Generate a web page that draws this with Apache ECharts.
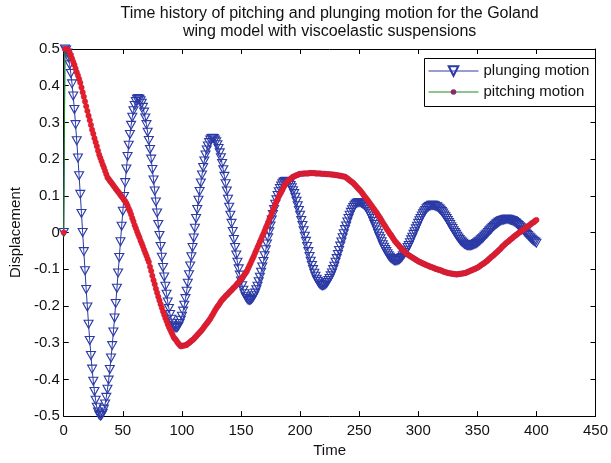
<!DOCTYPE html>
<html>
<head>
<meta charset="utf-8">
<script src="https://cdn.jsdelivr.net/npm/echarts@6/dist/echarts.min.js"></script>
<style>
html,body{margin:0;padding:0;background:#fff;}
#chart{width:611px;height:463px;}
</style>
</head>
<body>
<div id="chart"></div>
<script>
const titleLines = ['Time history of pitching and plunging motion for the Goland', 'wing model with viscoelastic suspensions'];
const xAxisName = 'Time';
const yAxisName = 'Displacement';
const seriesNames = ['plunging motion', 'pitching motion'];

const time = [
0,1,2,3,4,5,6,7,8,9,10,11,12,13,14,15,16,17,18,19,
20,21,22,23,24,25,26,27,28,29,30,31,32,33,34,35,36,37,38,39,
40,41,42,43,44,45,46,47,48,49,50,51,52,53,54,55,56,57,58,59,
60,61,62,63,64,65,66,67,68,69,70,71,72,73,74,75,76,77,78,79,
80,81,82,83,84,85,86,87,88,89,90,91,92,93,94,95,96,97,98,99,
100,101,102,103,104,105,106,107,108,109,110,111,112,113,114,115,116,117,118,119,
120,121,122,123,124,125,126,127,128,129,130,131,132,133,134,135,136,137,138,139,
140,141,142,143,144,145,146,147,148,149,150,151,152,153,154,155,156,157,158,159,
160,161,162,163,164,165,166,167,168,169,170,171,172,173,174,175,176,177,178,179,
180,181,182,183,184,185,186,187,188,189,190,191,192,193,194,195,196,197,198,199,
200,201,202,203,204,205,206,207,208,209,210,211,212,213,214,215,216,217,218,219,
220,221,222,223,224,225,226,227,228,229,230,231,232,233,234,235,236,237,238,239,
240,241,242,243,244,245,246,247,248,249,250,251,252,253,254,255,256,257,258,259,
260,261,262,263,264,265,266,267,268,269,270,271,272,273,274,275,276,277,278,279,
280,281,282,283,284,285,286,287,288,289,290,291,292,293,294,295,296,297,298,299,
300,301,302,303,304,305,306,307,308,309,310,311,312,313,314,315,316,317,318,319,
320,321,322,323,324,325,326,327,328,329,330,331,332,333,334,335,336,337,338,339,
340,341,342,343,344,345,346,347,348,349,350,351,352,353,354,355,356,357,358,359,
360,361,362,363,364,365,366,367,368,369,370,371,372,373,374,375,376,377,378,379,
380,381,382,383,384,385,386,387,388,389,390,391,392,393,394,395,396,397,398,399,
400];

const plunging = [
0,0.5,0.497,0.489,0.476,0.457,0.433,0.405,0.372,0.335,
0.294,0.250,0.203,0.155,0.104,0.052,0.000,-0.052,-0.104,-0.155,
-0.203,-0.250,-0.294,-0.335,-0.372,-0.405,-0.433,-0.457,-0.476,-0.489,
-0.497,-0.500,-0.498,-0.492,-0.481,-0.467,-0.449,-0.427,-0.402,-0.373,
-0.342,-0.308,-0.271,-0.233,-0.193,-0.152,-0.110,-0.068,-0.025,0.017,
0.058,0.098,0.136,0.173,0.207,0.238,0.267,0.292,0.314,0.332,
0.346,0.357,0.363,0.365,0.363,0.359,0.352,0.341,0.328,0.312,
0.294,0.273,0.251,0.226,0.200,0.172,0.143,0.113,0.083,0.053,
0.022,-0.008,-0.038,-0.067,-0.095,-0.121,-0.146,-0.168,-0.189,-0.207,
-0.223,-0.236,-0.247,-0.254,-0.258,-0.260,-0.259,-0.255,-0.248,-0.239,
-0.228,-0.214,-0.198,-0.180,-0.160,-0.138,-0.115,-0.091,-0.066,-0.041,
-0.015,0.012,0.038,0.063,0.088,0.112,0.135,0.157,0.177,0.195,
0.211,0.225,0.236,0.245,0.252,0.256,0.257,0.256,0.252,0.247,
0.239,0.229,0.217,0.204,0.188,0.171,0.153,0.133,0.113,0.091,
0.069,0.047,0.025,0.003,-0.019,-0.041,-0.061,-0.081,-0.099,-0.116,
-0.132,-0.145,-0.157,-0.167,-0.175,-0.180,-0.184,-0.185,-0.184,-0.182,
-0.178,-0.172,-0.165,-0.156,-0.146,-0.134,-0.122,-0.108,-0.094,-0.079,
-0.063,-0.047,-0.031,-0.014,0.002,0.018,0.034,0.049,0.063,0.077,
0.089,0.101,0.111,0.120,0.127,0.133,0.137,0.139,0.140,0.139,
0.137,0.133,0.128,0.122,0.114,0.106,0.096,0.085,0.073,0.060,
0.047,0.033,0.019,0.005,-0.010,-0.024,-0.038,-0.052,-0.065,-0.078,
-0.090,-0.101,-0.111,-0.119,-0.127,-0.133,-0.138,-0.142,-0.144,-0.145,
-0.144,-0.143,-0.140,-0.136,-0.131,-0.125,-0.118,-0.110,-0.101,-0.092,
-0.081,-0.071,-0.060,-0.049,-0.037,-0.026,-0.014,-0.003,0.008,0.018,
0.029,0.038,0.047,0.055,0.062,0.068,0.073,0.077,0.080,0.081,
0.082,0.082,0.080,0.078,0.076,0.072,0.068,0.063,0.057,0.051,
0.045,0.038,0.030,0.022,0.015,0.007,-0.002,-0.010,-0.017,-0.025,
-0.033,-0.040,-0.046,-0.052,-0.058,-0.063,-0.067,-0.071,-0.073,-0.075,
-0.077,-0.077,-0.077,-0.075,-0.074,-0.071,-0.068,-0.063,-0.059,-0.054,
-0.048,-0.041,-0.035,-0.028,-0.020,-0.013,-0.005,0.002,0.010,0.017,
0.025,0.032,0.038,0.045,0.051,0.056,0.060,0.065,0.068,0.071,
0.072,0.074,0.074,0.074,0.073,0.071,0.070,0.067,0.064,0.061,
0.057,0.053,0.048,0.043,0.038,0.033,0.027,0.022,0.016,0.011,
0.005,0.000,-0.005,-0.010,-0.015,-0.019,-0.023,-0.026,-0.029,-0.032,
-0.033,-0.035,-0.036,-0.036,-0.036,-0.035,-0.034,-0.033,-0.032,-0.030,
-0.028,-0.025,-0.023,-0.020,-0.017,-0.014,-0.010,-0.007,-0.004,0.000,
0.004,0.007,0.010,0.014,0.017,0.020,0.023,0.025,0.028,0.030,
0.032,0.033,0.034,0.035,0.036,0.036,0.036,0.035,0.034,0.033,
0.032,0.030,0.027,0.025,0.022,0.019,0.016,0.013,0.009,0.006,
0.002,-0.001,-0.005,-0.008,-0.012,-0.015,-0.018,-0.021,-0.024,-0.026,
-0.029];

const pitching = [
0,0.5,0.5,0.499,0.495,0.490,0.482,0.474,0.465,0.457,
0.447,0.437,0.428,0.418,0.408,0.395,0.382,0.370,0.357,0.344,
0.331,0.318,0.306,0.293,0.280,0.269,0.257,0.246,0.235,0.223,
0.212,0.203,0.194,0.185,0.177,0.168,0.159,0.150,0.146,0.141,
0.137,0.133,0.128,0.124,0.119,0.115,0.111,0.107,0.102,0.098,
0.094,0.089,0.085,0.080,0.073,0.065,0.058,0.049,0.039,0.030,
0.020,0.012,0.003,-0.005,-0.013,-0.022,-0.030,-0.038,-0.047,-0.055,
-0.063,-0.072,-0.080,-0.093,-0.105,-0.118,-0.130,-0.141,-0.153,-0.164,
-0.175,-0.185,-0.195,-0.205,-0.215,-0.224,-0.233,-0.241,-0.250,-0.257,
-0.264,-0.271,-0.278,-0.285,-0.289,-0.293,-0.298,-0.302,-0.306,-0.310,
-0.309,-0.308,-0.308,-0.307,-0.306,-0.303,-0.301,-0.298,-0.295,-0.293,
-0.290,-0.286,-0.283,-0.279,-0.276,-0.272,-0.269,-0.265,-0.261,-0.256,
-0.252,-0.248,-0.244,-0.239,-0.235,-0.229,-0.224,-0.218,-0.212,-0.207,
-0.202,-0.198,-0.193,-0.188,-0.184,-0.180,-0.177,-0.173,-0.170,-0.167,
-0.163,-0.160,-0.157,-0.153,-0.150,-0.147,-0.143,-0.139,-0.136,-0.132,
-0.128,-0.123,-0.119,-0.114,-0.110,-0.105,-0.098,-0.091,-0.084,-0.077,
-0.070,-0.063,-0.055,-0.048,-0.040,-0.033,-0.025,-0.018,-0.010,-0.003,
0.005,0.013,0.020,0.028,0.036,0.044,0.053,0.061,0.069,0.077,
0.085,0.091,0.098,0.104,0.110,0.116,0.123,0.129,0.135,0.138,
0.141,0.144,0.146,0.149,0.152,0.153,0.155,0.156,0.157,0.159,
0.160,0.160,0.160,0.161,0.161,0.161,0.161,0.161,0.162,0.162,
0.162,0.162,0.162,0.161,0.161,0.161,0.161,0.161,0.160,0.160,
0.160,0.160,0.159,0.159,0.159,0.159,0.158,0.158,0.158,0.157,
0.157,0.156,0.156,0.155,0.155,0.154,0.153,0.153,0.152,0.150,
0.147,0.145,0.142,0.140,0.137,0.135,0.131,0.128,0.124,0.121,
0.117,0.114,0.110,0.106,0.101,0.097,0.093,0.089,0.084,0.080,
0.075,0.071,0.066,0.062,0.057,0.053,0.048,0.043,0.038,0.033,
0.027,0.022,0.017,0.012,0.007,0.002,-0.003,-0.007,-0.012,-0.017,
-0.022,-0.026,-0.030,-0.033,-0.037,-0.041,-0.045,-0.048,-0.051,-0.054,
-0.057,-0.060,-0.062,-0.064,-0.066,-0.068,-0.070,-0.072,-0.074,-0.076,
-0.078,-0.080,-0.081,-0.083,-0.084,-0.086,-0.087,-0.089,-0.090,-0.091,
-0.093,-0.094,-0.095,-0.096,-0.098,-0.099,-0.100,-0.101,-0.102,-0.103,
-0.104,-0.106,-0.107,-0.108,-0.109,-0.110,-0.111,-0.111,-0.112,-0.112,
-0.113,-0.113,-0.114,-0.114,-0.113,-0.113,-0.112,-0.112,-0.111,-0.111,
-0.110,-0.109,-0.107,-0.106,-0.104,-0.103,-0.102,-0.100,-0.099,-0.097,
-0.096,-0.094,-0.092,-0.089,-0.087,-0.085,-0.083,-0.080,-0.078,-0.075,
-0.072,-0.069,-0.066,-0.064,-0.061,-0.058,-0.055,-0.052,-0.049,-0.046,
-0.043,-0.039,-0.036,-0.033,-0.030,-0.027,-0.025,-0.022,-0.019,-0.017,
-0.014,-0.011,-0.009,-0.006,-0.004,-0.001,0.001,0.003,0.006,0.008,
0.010,0.013,0.015,0.017,0.020,0.022,0.025,0.027,0.029,0.032,
0.034];

const FONT = "'Liberation Sans', Arial, sans-serif";
const BLUE = '#2b3aa6';
const GREEN = '#1f8a1f';
const RED = '#ea1c24';

const chart = echarts.init(document.getElementById('chart'), null, {renderer: 'canvas'});

const xCommon = {
  type: 'value', min: 0, max: 450, interval: 50,
  axisLine: {show: true, onZero: false, lineStyle: {color: '#000', width: 1}},
  axisTick: {show: true, inside: true, length: 5, lineStyle: {color: '#000'}},
  splitLine: {show: false}
};
const yCommon = {
  type: 'value', min: -0.5, max: 0.5, interval: 0.1,
  axisLine: {show: true, onZero: false, lineStyle: {color: '#000', width: 1}},
  axisTick: {show: true, inside: true, length: 5, lineStyle: {color: '#000'}},
  splitLine: {show: false}
};

const legendText = {fontFamily: FONT, fontSize: 15, color: '#111', lineHeight: 16};

chart.setOption({
  animation: false,
  backgroundColor: '#fff',
  textStyle: {fontFamily: FONT},
  grid: {left: 61, right: 11, top: 49, bottom: 43, containLabel: false},
  graphic: [{
    type: 'rect', left: 424, top: 58, z: 50,
    shape: {width: 171, height: 48},
    style: {fill: '#fff', stroke: '#000', lineWidth: 1}
  }],
  legend: [
    {
      orient: 'vertical', left: 428, top: 63, padding: 0, z: 60,
      itemWidth: 50, itemHeight: 12,
      lineStyle: {width: 1},
      textStyle: legendText, data: [seriesNames[0]]
    },
    {
      orient: 'vertical', left: 428, top: 84, padding: 0, z: 60,
      itemWidth: 50, itemHeight: 7,
      lineStyle: {width: 1},
      itemStyle: {color: '#8a2a6a', borderWidth: 0},
      textStyle: legendText, data: [seriesNames[1]]
    }
  ],
  xAxis: [
    Object.assign({}, xCommon, {
      position: 'bottom',
      axisLabel: {show: true, margin: 7, color: '#111', fontSize: 15, fontFamily: FONT},
      name: xAxisName, nameLocation: 'middle', nameGap: 25,
      nameTextStyle: {fontSize: 15, color: '#111', fontFamily: FONT}
    }),
    Object.assign({}, xCommon, {
      position: 'top',
      axisLabel: {show: false},
      name: titleLines.join('\n'), nameLocation: 'middle', nameGap: 8,
      nameTextStyle: {fontSize: 16, color: '#111', fontFamily: FONT, lineHeight: 18, verticalAlign: 'bottom'}
    })
  ],
  yAxis: [
    Object.assign({}, yCommon, {
      position: 'left',
      axisLabel: {show: true, margin: 4, color: '#111', fontSize: 15, fontFamily: FONT},
      name: yAxisName, nameLocation: 'middle', nameGap: 36,
      nameTextStyle: {fontSize: 15, color: '#111', fontFamily: FONT}
    }),
    Object.assign({}, yCommon, {
      position: 'right',
      axisLabel: {show: false}
    })
  ],
  series: [
    {
      name: seriesNames[0], type: 'line', xAxisIndex: 0, yAxisIndex: 0,
      data: time.map((t, i) => [t, plunging[i]]),
      symbol: 'triangle', symbolRotate: 180, symbolSize: [9, 8],
      showSymbol: true, showAllSymbol: true,
      lineStyle: {color: BLUE, width: 1},
      itemStyle: {color: 'rgba(255,255,255,0)', borderColor: BLUE, borderWidth: 1.1},
      emphasis: {disabled: true}, silent: true, z: 2
    },
    {
      name: seriesNames[1], type: 'line', xAxisIndex: 0, yAxisIndex: 0,
      data: time.map((t, i) => [t, pitching[i]]),
      symbol: 'circle', symbolSize: 5.5,
      showSymbol: true, showAllSymbol: true,
      lineStyle: {color: GREEN, width: 1},
      itemStyle: {color: RED, borderColor: '#b02050', borderWidth: 0.4},
      emphasis: {disabled: true}, silent: true, z: 3
    }
  ]
});
</script>
</body>
</html>
